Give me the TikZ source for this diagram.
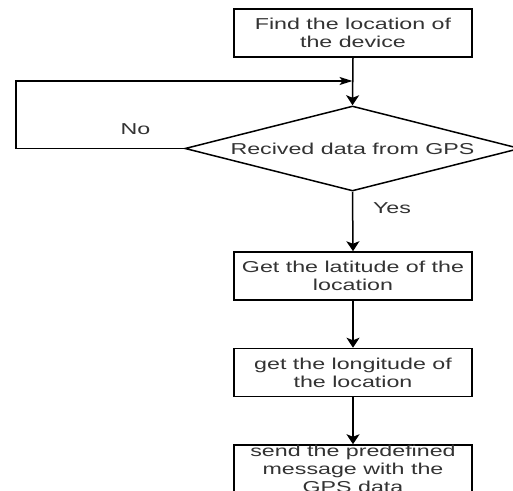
\documentclass[tikz,border=0pt]{standalone}
\usepackage{fontspec}
\setmainfont{Liberation Sans}[FakeStretch=1.47]
\usetikzlibrary{shapes.geometric,arrows.meta}
\tikzset{
  base/.style={draw=black, line width=1.5pt, text=black!80, font=\fontsize{15.8}{17.7}\selectfont, align=center, inner sep=0pt},
  procbox/.style={base, rectangle, minimum width=238pt, minimum height=48pt},
  decision/.style={base, diamond, aspect=3.94, minimum width=335pt, minimum height=85pt},
  lbl/.style={text=black!80, font=\fontsize{15.8}{17.7}\selectfont, inner sep=0pt},
  conn/.style={line width=1.5pt, draw=black},
  vtip/.style={conn, -{Stealth[length=10pt,width=13pt,inset=2.5pt]}},
  htip/.style={conn, -{Stealth[length=13pt,width=8pt,inset=3pt]}}
}
\begin{document}
\begin{tikzpicture}[x=1pt,y=1pt]
\useasboundingbox (0,0) rectangle (513,-490);
\clip (0,0) rectangle (513,-490);
\fill[white] (0,0) rectangle (513,-490);
\node[procbox] (find) at (353,-33) {Find the location of\\the device};
\node[decision] (gps) at (352.5,-148.5) {Recived data from GPS};
\node[procbox] (lat) at (353,-276) {Get the latitude of the\\location};
\node[procbox] (lon) at (353,-372.5) {get the longitude of\\the location};
\node[procbox] (send) at (353,-469) {send the predefined\\message with the\\GPS data};
\coordinate (merge) at (352.5,-81);
\coordinate (loopbl) at (16,-148.5);
\coordinate (looptl) at (16,-81);
\draw[vtip] (find.south) -- (gps.north);
\draw[htip] (gps.west) -- (loopbl) -- (looptl) -- (merge);
\draw[vtip] (gps.south) -- (lat.north);
\draw[vtip] (lat.south) -- (lon.north);
\draw[vtip] (lon.south) -- (send.north);
\node[lbl] (no) at (135.5,-129) {No};
\node[lbl] (yes) at (392,-208) {Yes};
\end{tikzpicture}
\end{document}
